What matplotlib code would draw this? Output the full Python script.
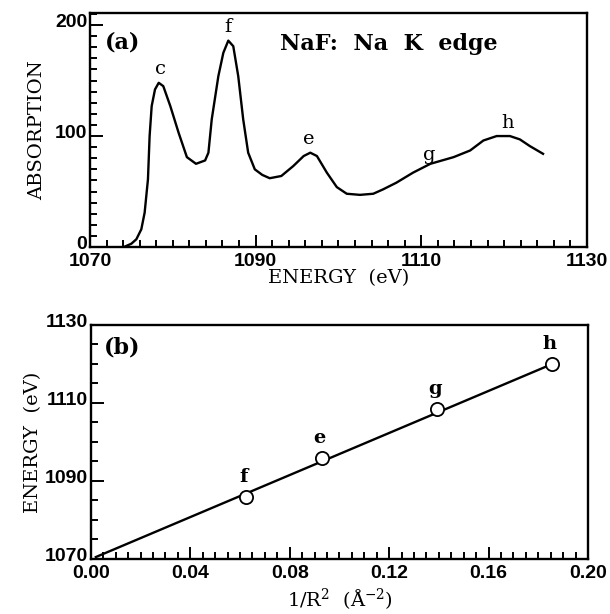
import matplotlib
matplotlib.use("Agg")
import matplotlib.pyplot as plt
from matplotlib.ticker import MultipleLocator, FixedLocator, FormatStrFormatter
from matplotlib.transforms import ScaledTranslation

# ---- Panel (a) data: NaF Na K-edge absorption spectrum ----
energy_a = [1074.1, 1074.4, 1075.0, 1075.6, 1076.2, 1076.6, 1077.0, 1077.2, 1077.45,
            1077.85, 1078.3, 1078.85, 1079.7, 1080.7, 1081.7, 1082.8, 1083.9, 1084.3,
            1084.7, 1085.5, 1086.1, 1086.7, 1087.3, 1087.9, 1088.5, 1089.1, 1089.9,
            1090.8, 1091.7, 1093.1, 1094.55, 1095.8, 1096.6, 1097.4, 1098.6, 1099.8,
            1101.0, 1102.6, 1104.2, 1105.4, 1107.0, 1109.0, 1111.1, 1113.9, 1115.9,
            1117.5, 1119.1, 1120.7, 1121.9, 1123.1, 1124.7]
absorption_a = [0, 1, 3, 7, 16, 31, 61, 100, 127,
                142, 148, 145, 127, 103, 81, 75, 78, 85,
                115, 154, 175, 186, 181, 154, 115, 85, 70,
                65, 62, 64, 73, 82, 85, 82, 67, 54,
                48, 47, 48, 52, 58, 67, 75, 81, 87,
                96, 100, 100, 97, 91, 84]
peak_labels_a = ["c", "f", "e", "g", "h"]
peak_label_x_a = [1078.5, 1086.7, 1096.4, 1111.0, 1120.4]
peak_label_y_a = [160, 198, 97, 83, 112]

# ---- Panel (b) data: peak energy vs 1/R^2 ----
inv_r2 = [0.0625, 0.0928, 0.1394, 0.1856]
peak_energy = [1085.8, 1096.0, 1108.4, 1119.9]
peak_labels_b = ["f", "e", "g", "h"]
label_y_b = [1091.0, 1101.1, 1113.5, 1125.1]
fit_x = [0.002, 0.1856]
fit_y = [1070.5, 1120.0]

xticks_a = [1070, 1090, 1110, 1130]
yticks_a = [0, 100, 200]
xticks_b = [0.00, 0.04, 0.08, 0.12, 0.16, 0.20]
yticks_b = [1070, 1090, 1110, 1130]

plt.rcParams['mathtext.fontset'] = 'dejavuserif'
serif = ['DejaVu Serif']
sans = ['Liberation Sans', 'DejaVu Sans']

fig = plt.figure(figsize=(6.10, 6.14), dpi=100)
ax1 = fig.add_axes([0.1475, 0.5977, 0.8147, 0.3813])
ax2 = fig.add_axes([0.149, 0.0896, 0.815, 0.3811])

lw = 1.7
for ax in (ax1, ax2):
    for s in ax.spines.values():
        s.set_linewidth(1.7)
    ax.tick_params(which='both', direction='in', top=False, right=False,
                   width=1.4, labelsize=14)
    ax.tick_params(axis='x', pad=4)
    ax.tick_params(axis='y', pad=2)
    ax.tick_params(which='major', length=9)
    ax.tick_params(which='minor', length=5)

# Panel (a)
ax1.plot(energy_a, absorption_a, color='black', lw=lw, solid_joinstyle='round')
ax1.set_xlim(1070, 1130)
ax1.set_ylim(0, 211)
ax1.xaxis.set_major_locator(FixedLocator(xticks_a))
ax1.xaxis.set_minor_locator(MultipleLocator(2))
ax1.yaxis.set_major_locator(FixedLocator(yticks_a))
ax1.yaxis.set_minor_locator(MultipleLocator(10))
for t, x, y in zip(peak_labels_a, peak_label_x_a, peak_label_y_a):
    ax1.text(x, y, t, ha='center', va='center', fontsize=14, family=serif)
ax1.text(1073.9, 184, "(a)", ha='center', va='center', fontsize=16,
         family=serif, fontweight='bold')
ax1.text(1106.1, 183, "NaF:  Na  K  edge", ha='center', va='center', fontsize=16,
         family=serif, fontweight='bold')
ax1.set_xlabel("ENERGY  (eV)", family=serif, fontsize=14, labelpad=0)
ax1.set_ylabel("ABSORPTION", family=serif, fontsize=14, labelpad=6)

# Panel (b)
ax2.plot(fit_x, fit_y, color='black', lw=lw)
ax2.plot(inv_r2, peak_energy, 'o', mfc='white', mec='black', ms=9.5, mew=1.3)
ax2.set_xlim(0, 0.20)
ax2.set_ylim(1070, 1130)
ax2.xaxis.set_major_locator(FixedLocator(xticks_b))
ax2.xaxis.set_minor_locator(MultipleLocator(0.005))
ax2.yaxis.set_major_locator(FixedLocator(yticks_b))
ax2.yaxis.set_minor_locator(MultipleLocator(5))
ax2.xaxis.set_major_formatter(FormatStrFormatter('%.2f'))
for t, x, y in zip(peak_labels_b, inv_r2, label_y_b):
    ax2.text(x - 0.001, y, t, ha='center', va='center', fontsize=14, family=serif,
             fontweight='bold')
ax2.text(0.0125, 1124.3, "(b)", ha='center', va='center', fontsize=16,
         family=serif, fontweight='bold')
ax2.set_xlabel(r"1/R$^{2}$  ($\mathrm{\AA}^{-2}$)", family=serif, fontsize=14, labelpad=3)
ax2.set_ylabel("ENERGY  (eV)", family=serif, fontsize=14, labelpad=2)

shift_up = ScaledTranslation(0, 3 / 72, fig.dpi_scale_trans)
for ax in (ax1, ax2):
    for lab in ax.get_xticklabels() + ax.get_yticklabels():
        lab.set_family(sans)
        lab.set_fontweight('bold')
    for lab in ax.get_yticklabels():
        lab.set_transform(lab.get_transform() + shift_up)

fig.savefig("out.png", dpi=100)
